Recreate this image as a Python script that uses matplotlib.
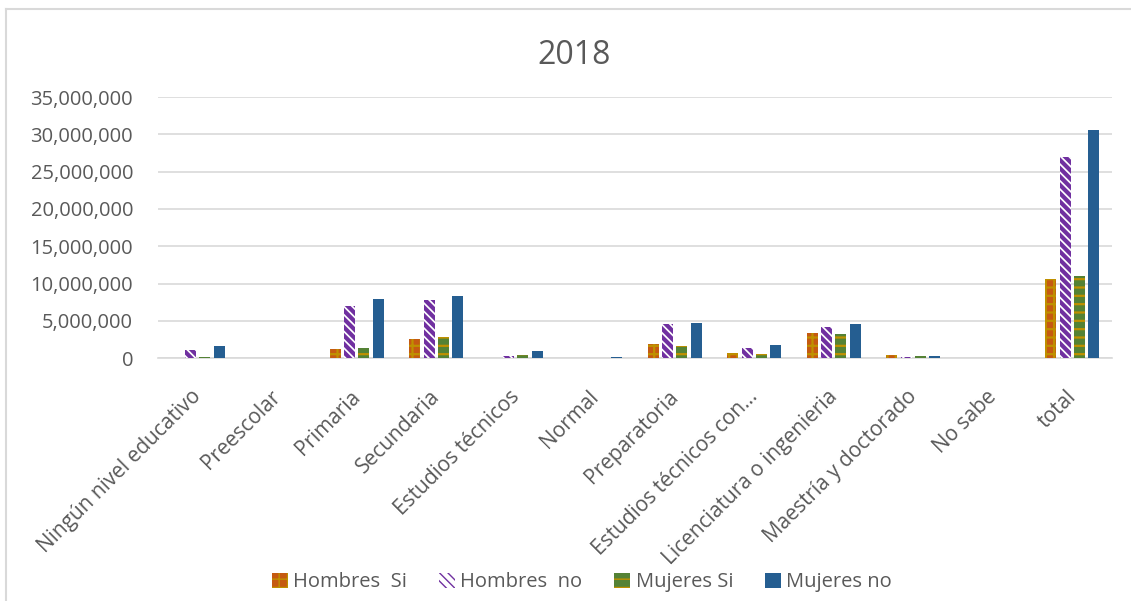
import numpy as np
import matplotlib
matplotlib.use("Agg")
import matplotlib.pyplot as plt
from matplotlib.lines import Line2D
from matplotlib.ticker import FuncFormatter
from matplotlib.transforms import ScaledTranslation

plt.rcParams['font.family'] = ['Open Sans', 'DejaVu Sans']

# datos (personas)
categorias = ["Ningún nivel educativo", "Preescolar", "Primaria", "Secundaria",
              "Estudios técnicos", "Normal", "Preparatoria", "Estudios técnicos con...",
              "Licenciatura o ingenieria", "Maestría y doctorado", "No sabe", "total"]
hombres_si = [50000, 10000, 1300000, 2600000, 50000, 20000, 1900000, 670000,
              3400000, 400000, 10000, 10600000]
hombres_no = [1100000, 10000, 7000000, 7800000, 300000, 50000, 4600000, 1400000,
              4200000, 180000, 10000, 27000000]
mujeres_si = [200000, 10000, 1400000, 2900000, 450000, 30000, 1650000, 580000,
              3200000, 310000, 10000, 10970000]
mujeres_no = [1650000, 10000, 7900000, 8300000, 1000000, 150000, 4750000, 1800000,
              4570000, 310000, 10000, 30600000]

series = [
    ("Hombres  Si", hombres_si, "#C55A11", "#BF9000", "++"),
    ("Hombres  no", hombres_no, "white", "#7030A0", "\\" * 4),
    ("Mujeres Si", mujeres_si, "#548235", "#BF9000", "--"),
    ("Mujeres no", mujeres_no, "#255E91", "#255E91", None),
]

gris = "#595959"

fig = plt.figure(figsize=(11.31, 6.01), dpi=100)
ax = fig.add_axes([0.1397, 0.4038, 0.9832 - 0.1397, 0.8386 - 0.4038])

x = np.arange(len(categorias))
paso = 0.179
ancho = 0.139
for i, (nombre, vals, color, hcolor, hatch) in enumerate(series):
    lw_h = 3.0 if nombre == "Hombres  no" else 1.6
    with plt.rc_context({'hatch.linewidth': lw_h}):
        barras = ax.bar(x + (i - 1.5) * paso, vals, width=ancho, color=color,
                        edgecolor=hcolor, linewidth=0, hatch=hatch, label=nombre,
                        zorder=3)
    for b in barras:
        if hasattr(b, "set_hatch_linewidth"):
            b.set_hatch_linewidth(lw_h)

ax.set_xlim(-0.5, len(categorias) - 0.5)
ax.set_ylim(0, 35000000)
ax.set_yticks(np.arange(0, 35000001, 5000000))
ax.yaxis.set_major_formatter(FuncFormatter(lambda v, p: f"{int(v):,}"))
ax.grid(axis='y', color="#D9D9D9", linewidth=1.2, zorder=0)
ax.set_axisbelow(True)
for s in ["top", "right", "left"]:
    ax.spines[s].set_visible(False)
ax.spines["bottom"].set_color("#D9D9D9")
ax.spines["bottom"].set_linewidth(1.2)

ax.tick_params(axis='y', length=0, pad=18, labelsize=14.5, labelcolor=gris)
ax.tick_params(axis='x', length=0, pad=20, labelsize=15, labelcolor=gris)
ax.set_xticks(x)
ax.set_xticklabels(categorias, rotation=45, ha='right', va='top',
                   rotation_mode='anchor')
desplaza = ScaledTranslation(-7 / 100, 0, fig.dpi_scale_trans)
for lab in ax.get_xticklabels():
    lab.set_transform(lab.get_transform() + desplaza)

fig.text(0.5075, 0.908, "2018", ha='center', va='center', fontsize=23, color=gris)

ax.legend(loc='center', bbox_to_anchor=(0.5145, 0.031),
          bbox_transform=fig.transFigure, ncol=4, frameon=False, fontsize=14.5,
          labelcolor=gris, handlelength=0.8, handleheight=0.8, handletextpad=0.25,
          columnspacing=1.6)

# borde del área del gráfico
fig.add_artist(Line2D([6 / 1131, 1], [1 - 9 / 601, 1 - 9 / 601],
                      transform=fig.transFigure, color="#D9D9D9", linewidth=1.5))
fig.add_artist(Line2D([6 / 1131, 6 / 1131], [0, 1 - 9 / 601],
                      transform=fig.transFigure, color="#D9D9D9", linewidth=1.5))

fig.savefig("out.png", dpi=100)
